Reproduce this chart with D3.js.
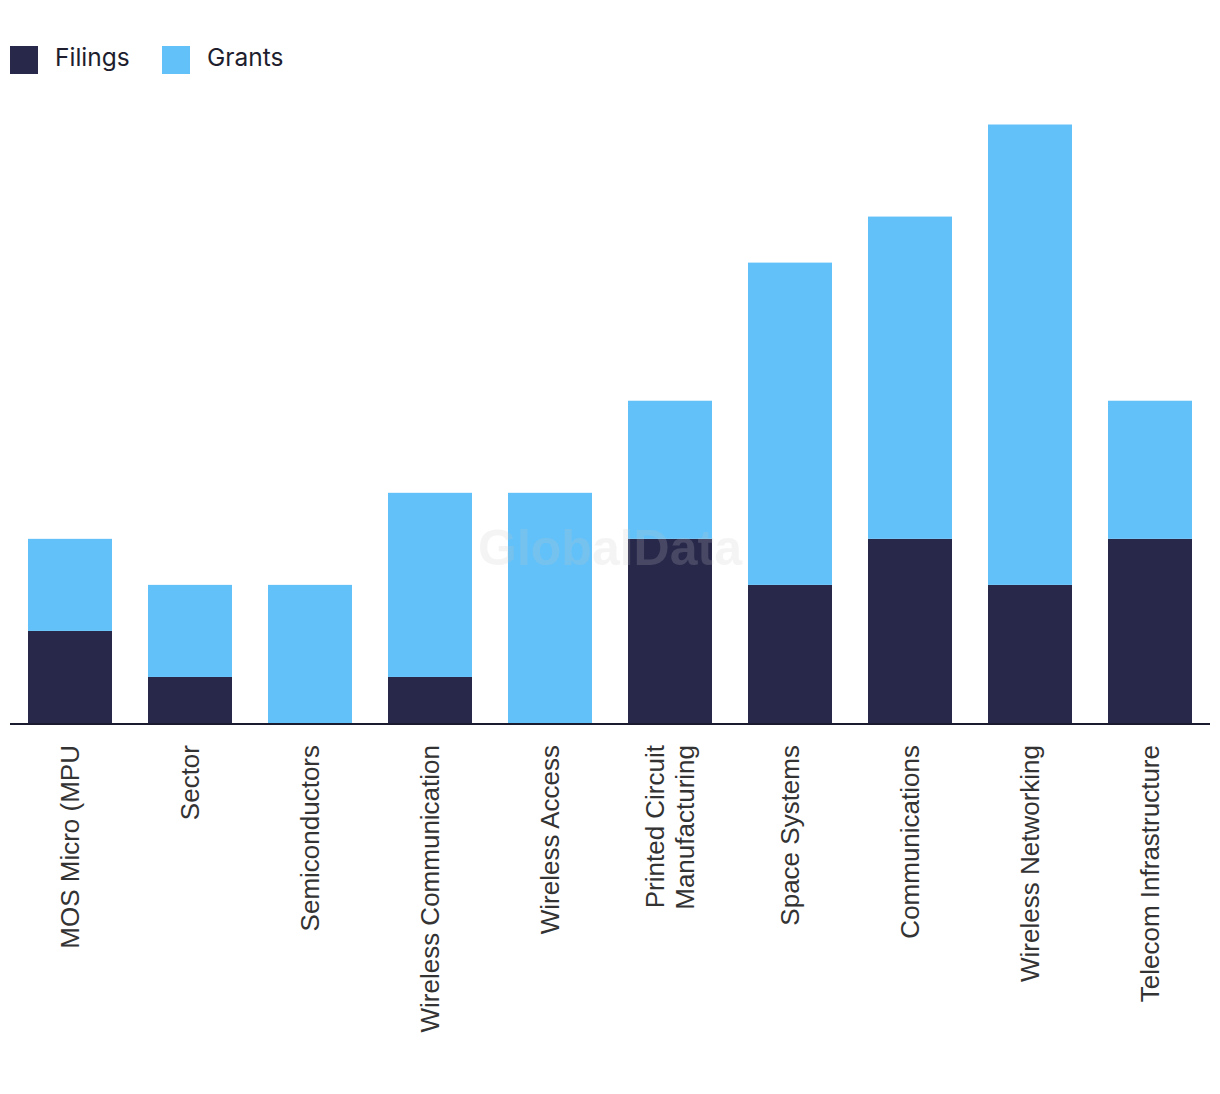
<!DOCTYPE html>
<html>
<head>
<meta charset="utf-8">
<script src="https://cdn.jsdelivr.net/npm/d3@7"></script>
<style>
  html, body { margin: 0; padding: 0; background: #fff; }
  svg { display: block; }
</style>
</head>
<body>
<svg id="chart" width="1220" height="1094"></svg>
<script>
const categories = ["MOS Micro (MPU", "Sector", "Semiconductors", "Wireless Communication", "Wireless Access",
  "Printed Circuit Manufacturing", "Space Systems", "Communications", "Wireless Networking", "Telecom Infrastructure"];
const filings = [2, 1, 0, 1, 0, 4, 3, 4, 3, 4];
const grants  = [2, 2, 3, 4, 5, 3, 7, 7, 10, 3];
const seriesNames = ["Filings", "Grants"];
const seriesColors = ["#28284b", "#62c1f9"];

const svg = d3.select("#chart");
const baseY = 723;

const x = d3.scaleBand().domain(categories).range([10, 1210]).paddingInner(0.3).paddingOuter(0.15);
const y = d3.scaleLinear().domain([0, 13]).range([baseY, 124.5]);

const rows = categories.map((c, i) => ({ cat: c, Filings: filings[i], Grants: grants[i] }));
const stacked = d3.stack().keys(seriesNames)(rows);

const gBars = svg.append("g");
stacked.forEach((layer, li) => {
  gBars.selectAll(null).data(layer).join("rect")
    .attr("x", d => x(d.data.cat))
    .attr("width", x.bandwidth())
    .attr("y", d => y(d[1]))
    .attr("height", d => y(d[0]) - y(d[1]))
    .attr("fill", seriesColors[li]);
});

// watermark
svg.append("text")
  .attr("x", 610).attr("y", 565)
  .attr("text-anchor", "middle")
  .attr("font-family", "Liberation Sans, Arial, sans-serif")
  .attr("font-weight", "bold")
  .attr("font-size", 50)
  .attr("fill", "rgb(200,200,200)")
  .attr("fill-opacity", 0.2)
  .text("GlobalData");

// x axis
const xAxis = d3.axisBottom(x).tickSize(0).tickPadding(0);
const gx = svg.append("g").attr("transform", `translate(0,${baseY + 1})`).call(xAxis);
gx.select(".domain").attr("stroke", "#1b1b2f").attr("stroke-width", 2).attr("d", "M10,0H1210");
gx.selectAll(".tick text").remove();
gx.selectAll(".tick").each(function(d) {
  const words = d.length > 24 ? (() => {
    const parts = d.split(" ");
    return [parts.slice(0, parts.length - 1).join(" "), parts[parts.length - 1]];
  })() : [d];
  const t = d3.select(this).append("text")
    .attr("transform", "rotate(-90)")
    .attr("text-anchor", "end")
    .attr("font-family", "Liberation Sans, Arial, sans-serif")
    .attr("font-size", 26)
    .attr("fill", "#333");
  const lh = 30;
  const offset = -(words.length - 1) * lh / 2;
  words.forEach((w, i) => {
    t.append("tspan")
      .attr("x", -21)
      .attr("y", offset + i * lh)
      .attr("dy", "0.35em")
      .text(w);
  });
});

// legend
const legend = svg.append("g");
const legX = [10, 162];
seriesNames.forEach((s, i) => {
  legend.append("rect").attr("x", legX[i]).attr("y", 46).attr("width", 28).attr("height", 28).attr("fill", seriesColors[i]);
  legend.append("text").attr("x", legX[i] + 45).attr("y", 66)
    .attr("font-family", "Inter, sans-serif").attr("font-size", 24.5).attr("fill", "#1e1e2e")
    .text(s);
});
</script>
</body>
</html>
